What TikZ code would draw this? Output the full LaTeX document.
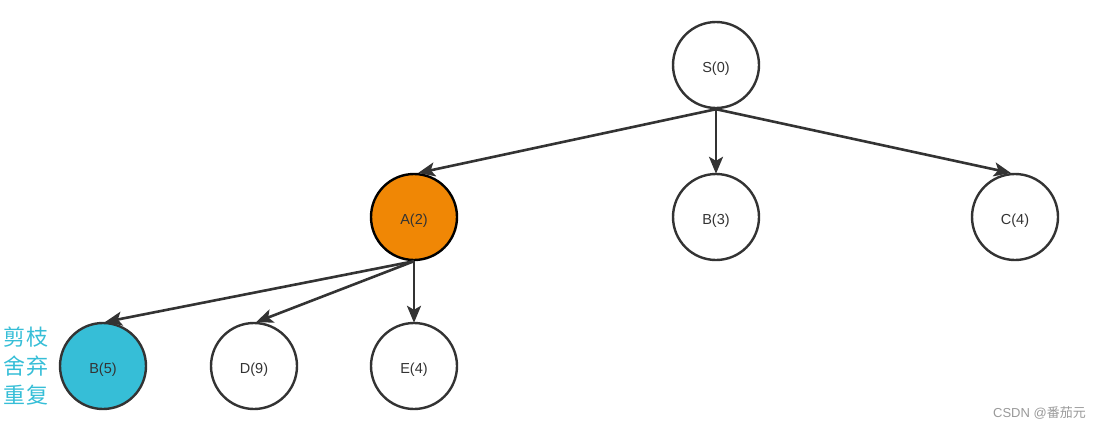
\documentclass[tikz,border=0pt]{standalone}
\usepackage{fontspec}
\setmainfont{Liberation Sans}
\newfontfamily\cjk{Noto Sans CJK SC}
\usetikzlibrary{arrows.meta}
\definecolor{edgec}{HTML}{333333}
\definecolor{orangec}{HTML}{F08705}
\definecolor{bluec}{HTML}{36BED7}
\definecolor{wmc}{HTML}{999999}
\tikzset{
  state/.style={circle, draw=edgec, line width=2.4pt, minimum size=86pt, inner sep=0pt,
    text height=14pt, text depth=0pt,
    font=\fontsize{14.5pt}{16pt}\selectfont, text=edgec, fill=white},
  conn/.style={draw=edgec, line width=2.6pt, -{Stealth[length=17pt,width=14pt,inset=4pt]}, shorten >=-1pt},
}
\begin{document}
\begin{tikzpicture}[x=1pt,y=-1pt]
\useasboundingbox (0,0) rectangle (1099,429);
\node[state] (S) at (716,65) {S(0)};
\node[state, fill=orangec, draw=black] (A) at (414,217) {A(2)};
\node[state] (B3) at (716,217) {B(3)};
\node[state] (C) at (1015,217) {C(4)};
\node[state, fill=bluec] (B5) at (103,366) {B(5)};
\node[state] (D) at (254,366) {D(9)};
\node[state] (E) at (414,366) {E(4)};
\draw[conn] (S.south) -- ([xshift=5pt]A.north);
\draw[conn] (S.south) -- (B3.north);
\draw[conn] (S.south) -- ([xshift=-5pt]C.north);
\draw[conn] (A.south) -- ([xshift=3pt]B5.north);
\draw[conn] (A.south) -- ([xshift=3pt]D.north);
\draw[conn] (A.south) -- (E.north);
\node[font=\cjk\fontsize{22pt}{29pt}\selectfont, text=bluec, align=center, inner sep=0pt] (note) at (26,366) {剪枝\\舍弃\\重复};
\node[font=\fontsize{13pt}{15pt}\selectfont, text=wmc, anchor=east, inner sep=0pt] (wm) at (1086,413) {CSDN @{\cjk 番茄元}};
\end{tikzpicture}
\end{document}
